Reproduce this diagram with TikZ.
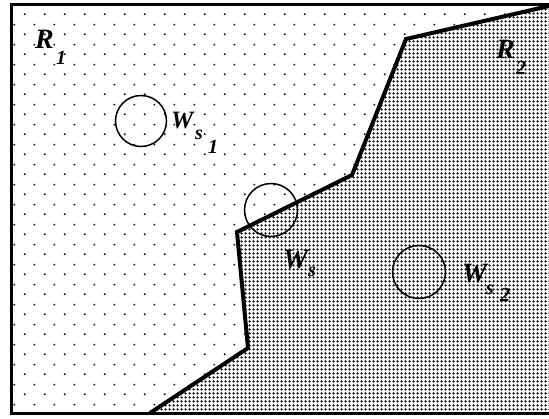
\documentclass[tikz,border=0pt]{standalone}
\usepackage{fontspec}
\setmainfont{Liberation Serif}
\usetikzlibrary{patterns.meta}
\tikzdeclarepattern{
  name=sparsedots,
  type=colored,
  bounding box={(0pt,0pt) and (20pt,20pt)},
  tile size={(20pt,20pt)},
  code={
    \fill[black!90] (5pt,5pt) circle (1.1pt);
    \fill[black!90] (15pt,15pt) circle (1.1pt);
  }
}
\tikzdeclarepattern{
  name=densedots,
  type=colored,
  bounding box={(0pt,0pt) and (4pt,4pt)},
  tile size={(4pt,4pt)},
  code={
    \fill[black!90] (2pt,2pt) circle (1.6pt);
  }
}
\tikzset{
  lbl/.style={anchor=base west, inner sep=0pt, font=\fontsize{28}{28}\selectfont\bfseries\itshape},
  lblsm/.style={anchor=base west, inner sep=0pt, font=\fontsize{25}{25}\selectfont\bfseries\itshape},
  sub/.style={anchor=base west, inner sep=0pt, font=\fontsize{20}{20}\selectfont\bfseries\itshape},
  subsub/.style={anchor=base west, inner sep=0pt, font=\fontsize{20}{20}\selectfont\bfseries\itshape},
  frameline/.style={line width=3pt},
  border/.style={line width=4pt, line join=miter},
  ring/.style={line width=1.5pt}
}
\begin{document}
\begin{tikzpicture}[x=1pt,y=-1pt]
\useasboundingbox (0,0) rectangle (549,418);
% boundary points
\coordinate (tl) at (11,4);
\coordinate (tr) at (549,4);
\coordinate (br) at (549,413);
\coordinate (bl) at (11,413);
\coordinate (p0) at (549,6);
\coordinate (p1) at (406,39);
\coordinate (p2) at (352,175);
\coordinate (p3) at (237,232);
\coordinate (p4) at (248,348);
\coordinate (p5) at (150,413);
% regions
\fill[white] (0,0) rectangle (549,418);
\path[pattern=sparsedots] (tl) -- (tr) -- (p0) -- (p1) -- (p2) -- (p3) -- (p4) -- (p5) -- (bl) -- cycle;
\path[pattern=densedots] (p0) -- (br) -- (p5) -- (p4) -- (p3) -- (p2) -- (p1) -- cycle;
% frame
\draw[frameline] (tr) -- (tl) -- (bl) -- (br);
% boundary
\draw[border] (p5) -- (p4) -- (p3) -- (p2) -- (p1) -- (p0);
% circles
\node[ring, draw, circle, minimum size=51pt, inner sep=0pt] (c1) at (141,121) {};
\node[ring, draw, circle, minimum size=53pt, inner sep=0pt] (c0) at (271,210) {};
\node[ring, draw, circle, minimum size=53pt, inner sep=0pt] (c2) at (419,272) {};
% labels
\node[lbl] (r1) at (35,48) {R};
\node[subsub] (r1s) at (56,64) {1};
\node[lbl] (r2) at (496,58) {R};
\node[subsub] (r2s) at (516,74) {2};
\node[lblsm] (w1) at (171,128) {W};
\node[sub] (w1s) at (195,139) {s};
\node[subsub] (w1ss) at (208,153) {1};
\node[lbl] (w0) at (283,268) {W};
\node[sub] (w0s) at (308,276) {s};
\node[lbl] (w2) at (462,282) {W};
\node[sub] (w2s) at (486,294) {s};
\node[subsub] (w2ss) at (500,301) {2};
\end{tikzpicture}
\end{document}
